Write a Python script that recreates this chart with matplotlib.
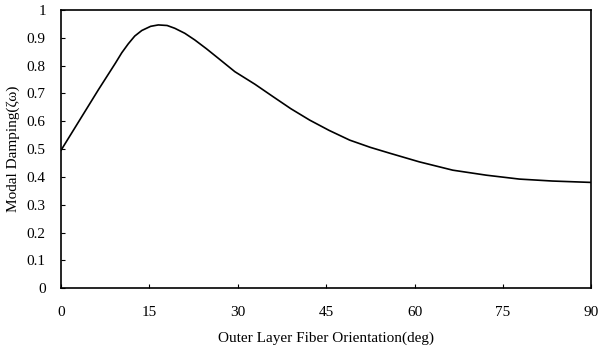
import matplotlib.pyplot as plt

plt.rcParams['font.family'] = ['Liberation Serif', 'DejaVu Serif']

# fiber orientation (deg) and modal damping
angle = [0, 3.5, 6.3, 9.2, 10.3, 11.4, 12.5, 13.7, 15.2, 16.5, 18.0, 19.3, 21.0, 22.7, 24.7, 26.7,
         29.5, 32.9, 36.0, 39.0, 42.2, 45.5, 49.0, 52.5, 55.8, 60.8, 66.5, 72.2, 77.8, 83.4, 90]
damping = [0.496, 0.616, 0.712, 0.808, 0.846, 0.878, 0.906, 0.926, 0.941, 0.946, 0.944, 0.934, 0.916, 0.892,
           0.860, 0.826, 0.778, 0.733, 0.688, 0.645, 0.604, 0.567, 0.532, 0.506, 0.485, 0.454, 0.424,
           0.406, 0.392, 0.385, 0.380]

x_ticks = [0, 15, 30, 45, 60, 75, 90]
y_ticks = [0, 0.1, 0.2, 0.3, 0.4, 0.5, 0.6, 0.7, 0.8, 0.9, 1]

fig, ax = plt.subplots(figsize=(5.99, 3.54), dpi=100)
fig.subplots_adjust(left=0.102, right=0.987, top=0.972, bottom=0.186)

ax.plot(angle, damping, color='black', linewidth=1.2)

ax.set_xlim(0, 90)
ax.set_ylim(0, 1)
ax.set_xticks(x_ticks)
ax.set_yticks(y_ticks)
ax.set_yticklabels(['0', '0.1', '0.2', '0.3', '0.4', '0.5', '0.6', '0.7', '0.8', '0.9', '1'])
ax.tick_params(direction='in', length=3, labelsize=11)
ax.tick_params(axis='x', pad=13)
ax.tick_params(axis='y', pad=11)
for s in ax.spines.values():
    s.set_linewidth(1.2)

ax.set_xlabel('Outer Layer Fiber Orientation(deg)', fontsize=11, labelpad=9)
ax.set_ylabel('Modal Damping(ζω)', fontsize=11, labelpad=5)

plt.savefig('out.png', dpi=100)
